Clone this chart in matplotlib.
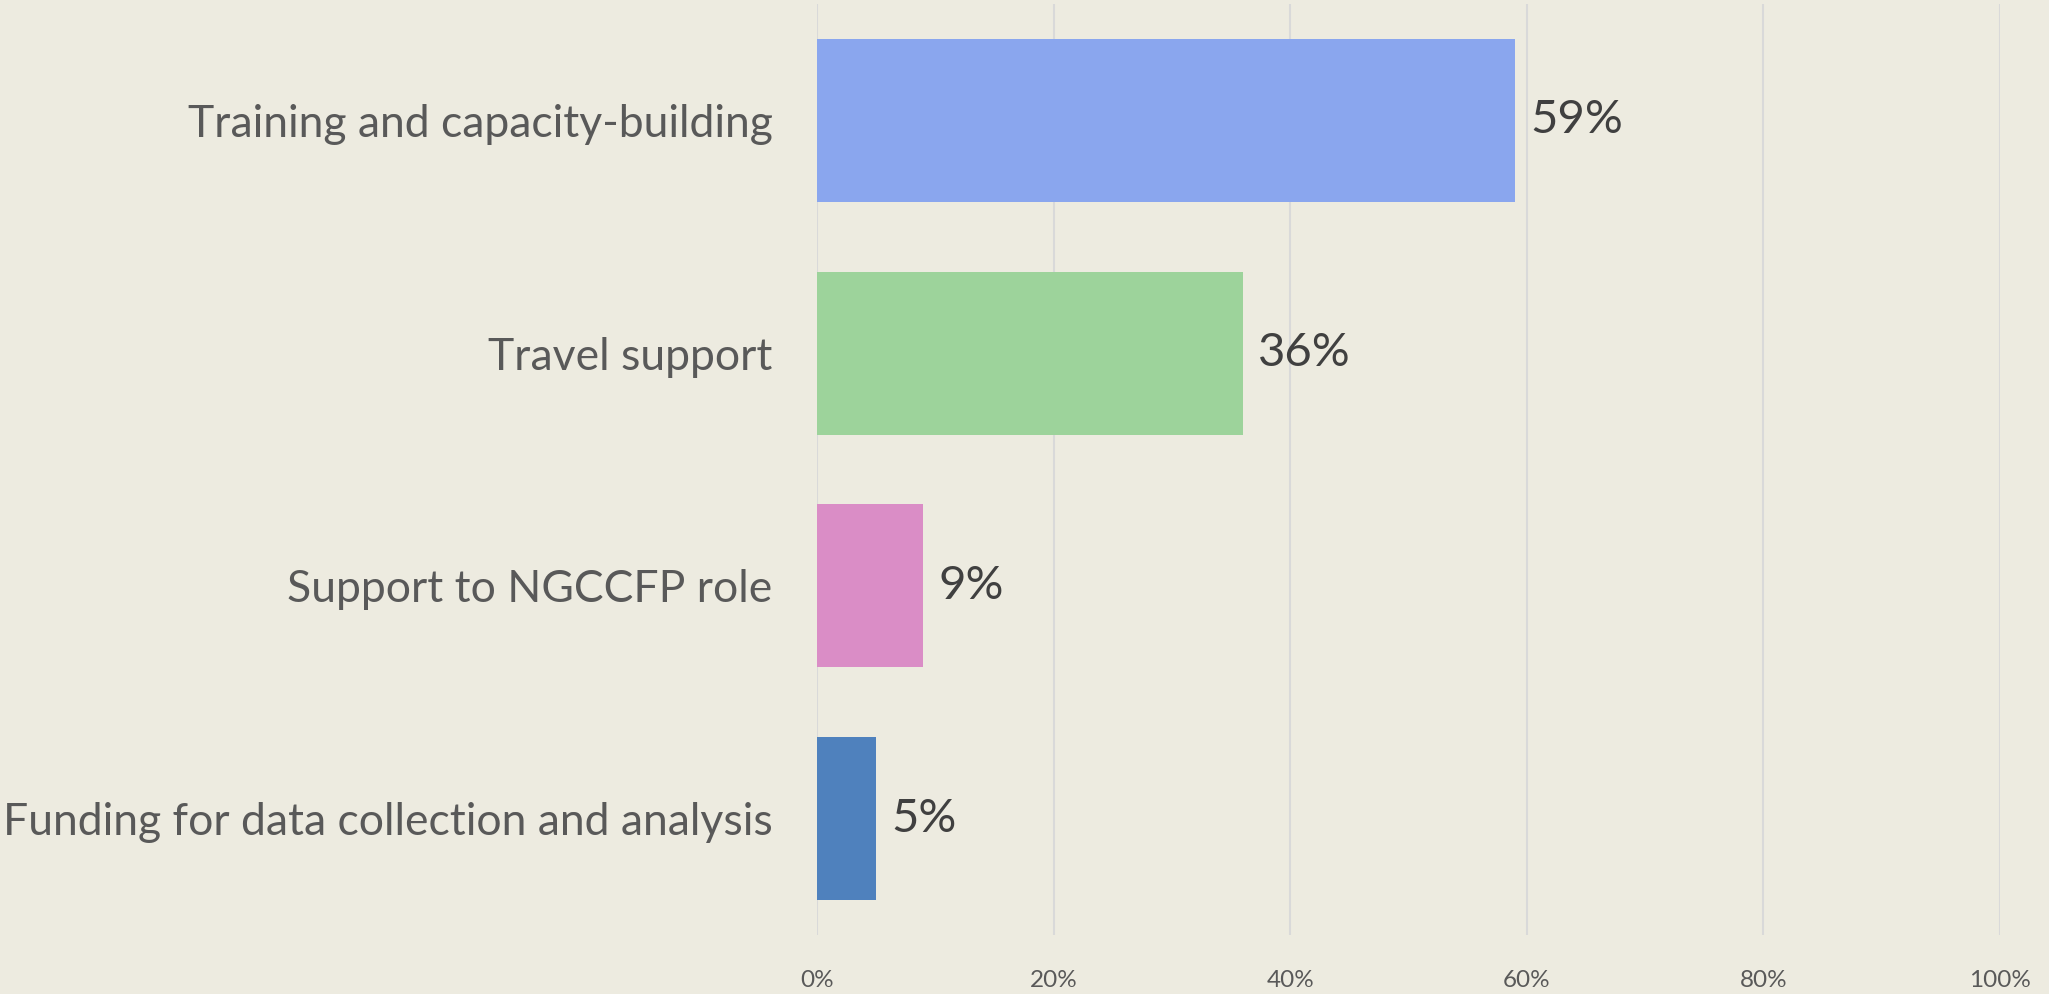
import matplotlib
matplotlib.use('Agg')
import matplotlib.pyplot as plt
from matplotlib.ticker import FuncFormatter

plt.rcParams['font.family'] = ['Lato', 'DejaVu Sans']

categories = ['Training and capacity-building', 'Travel support',
              'Support to NGCCFP role', 'Funding for data collection and analysis']
values = [59, 36, 9, 5]
colors = ['#8AA6EE', '#9DD39B', '#DA8DC6', '#4F81BD']
xticks = [0, 20, 40, 60, 80, 100]

bg = '#EDEBE0'
fig = plt.figure(figsize=(20.49, 9.94), dpi=100, facecolor=bg)
ax = fig.add_axes([0.3987, 0.0594, 0.5774, 0.9366], facecolor=bg)

y = range(len(categories))
ax.barh(y, values, height=0.70, color=colors, zorder=3)
ax.set_ylim(len(categories) - 0.5, -0.5)
ax.set_xlim(0, 100)

for i, v in enumerate(values):
    ax.text(v + 1.3, i, f'{v}%', va='center', ha='left', fontsize=34, color='#404040', zorder=4)

ax.set_yticks(list(y))
ax.set_yticklabels(categories, fontsize=32, color='#595959')
ax.set_xticks(xticks)
ax.xaxis.set_major_formatter(FuncFormatter(lambda v, p: f'{v:.0f}%'))
ax.tick_params(axis='x', labelsize=17.5, colors='#595959', length=0, pad=25)
ax.tick_params(axis='y', length=0, pad=32)
ax.xaxis.grid(True, color='#D9D9D9', linewidth=1.5, zorder=0)
for s in ax.spines.values():
    s.set_visible(False)

fig.savefig('out.png', dpi=100, facecolor=bg)
